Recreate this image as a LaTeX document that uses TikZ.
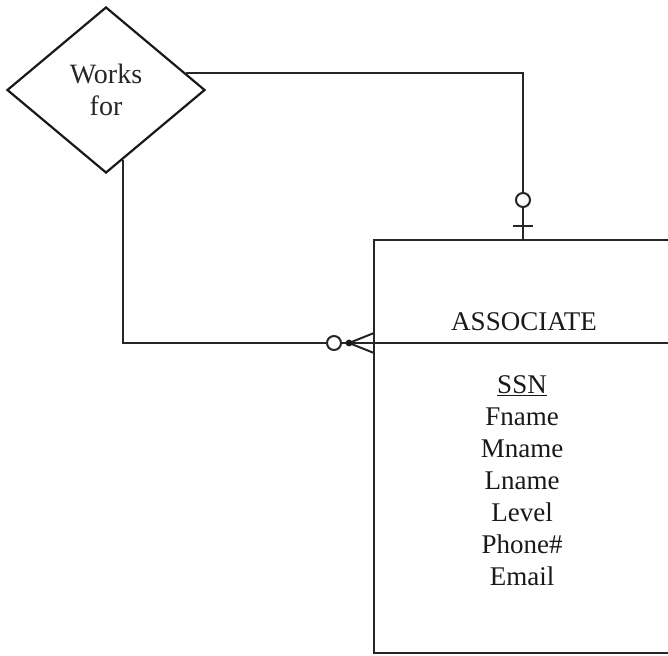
\documentclass[tikz,border=0pt]{standalone}
\usepackage{fontspec}
\setmainfont{Liberation Serif}
\usetikzlibrary{shapes.geometric}
\begin{document}
\begin{tikzpicture}[x=1pt, y=-1pt,
    erline/.style={line width=2pt, draw=black!85},
    relshape/.style={diamond, draw=black!90, line width=2.2pt, aspect=1.19,
        minimum width=198pt, minimum height=166pt, inner sep=0pt, align=center,
        text=black!85, font=\fontsize{28}{32}\selectfont},
    entbox/.style={rectangle, draw=black!85, line width=2pt,
        minimum width=330pt, minimum height=413pt, inner sep=0pt},
    entlabel/.style={font=\fontsize{27}{32}\selectfont, align=center,
        text=black!90, inner sep=0pt},
    opt/.style={erline, fill=white}]
    \useasboundingbox (0,0) rectangle (668,655);

    % Relationship and entity
    \node[relshape] (rel) at (106,90) {Works\\for};
    \node[entbox] (assoc) at (539,446.5) {};
    \node[entlabel] (title) at (524,322) {ASSOCIATE};
    \node[entlabel] (attrs) at (522,481) {\underline{SSN}\\Fname\\Mname\\Lname\\Level\\Phone\#\\Email};

    \coordinate (topend) at (523,240);
    \coordinate (leftend) at (374,343);

    % Connectors
    \draw[erline] (rel.12) -| (topend);
    \draw[erline] (rel.-76) |- (leftend);
    \draw[erline] (leftend) -- (leftend -| assoc.east);

    % One side: optional, one
    \draw[erline] (513,226) -- (533,226);
    \draw[opt] (523,200) circle (7);

    % Many side: optional, many
    \draw[erline] (349,343) -- (374,333);
    \draw[erline] (349,343) -- (374,353);
    \fill[black!90] (349,343) circle (3.4);
    \draw[opt] (334,343) circle (7);
\end{tikzpicture}
\end{document}
